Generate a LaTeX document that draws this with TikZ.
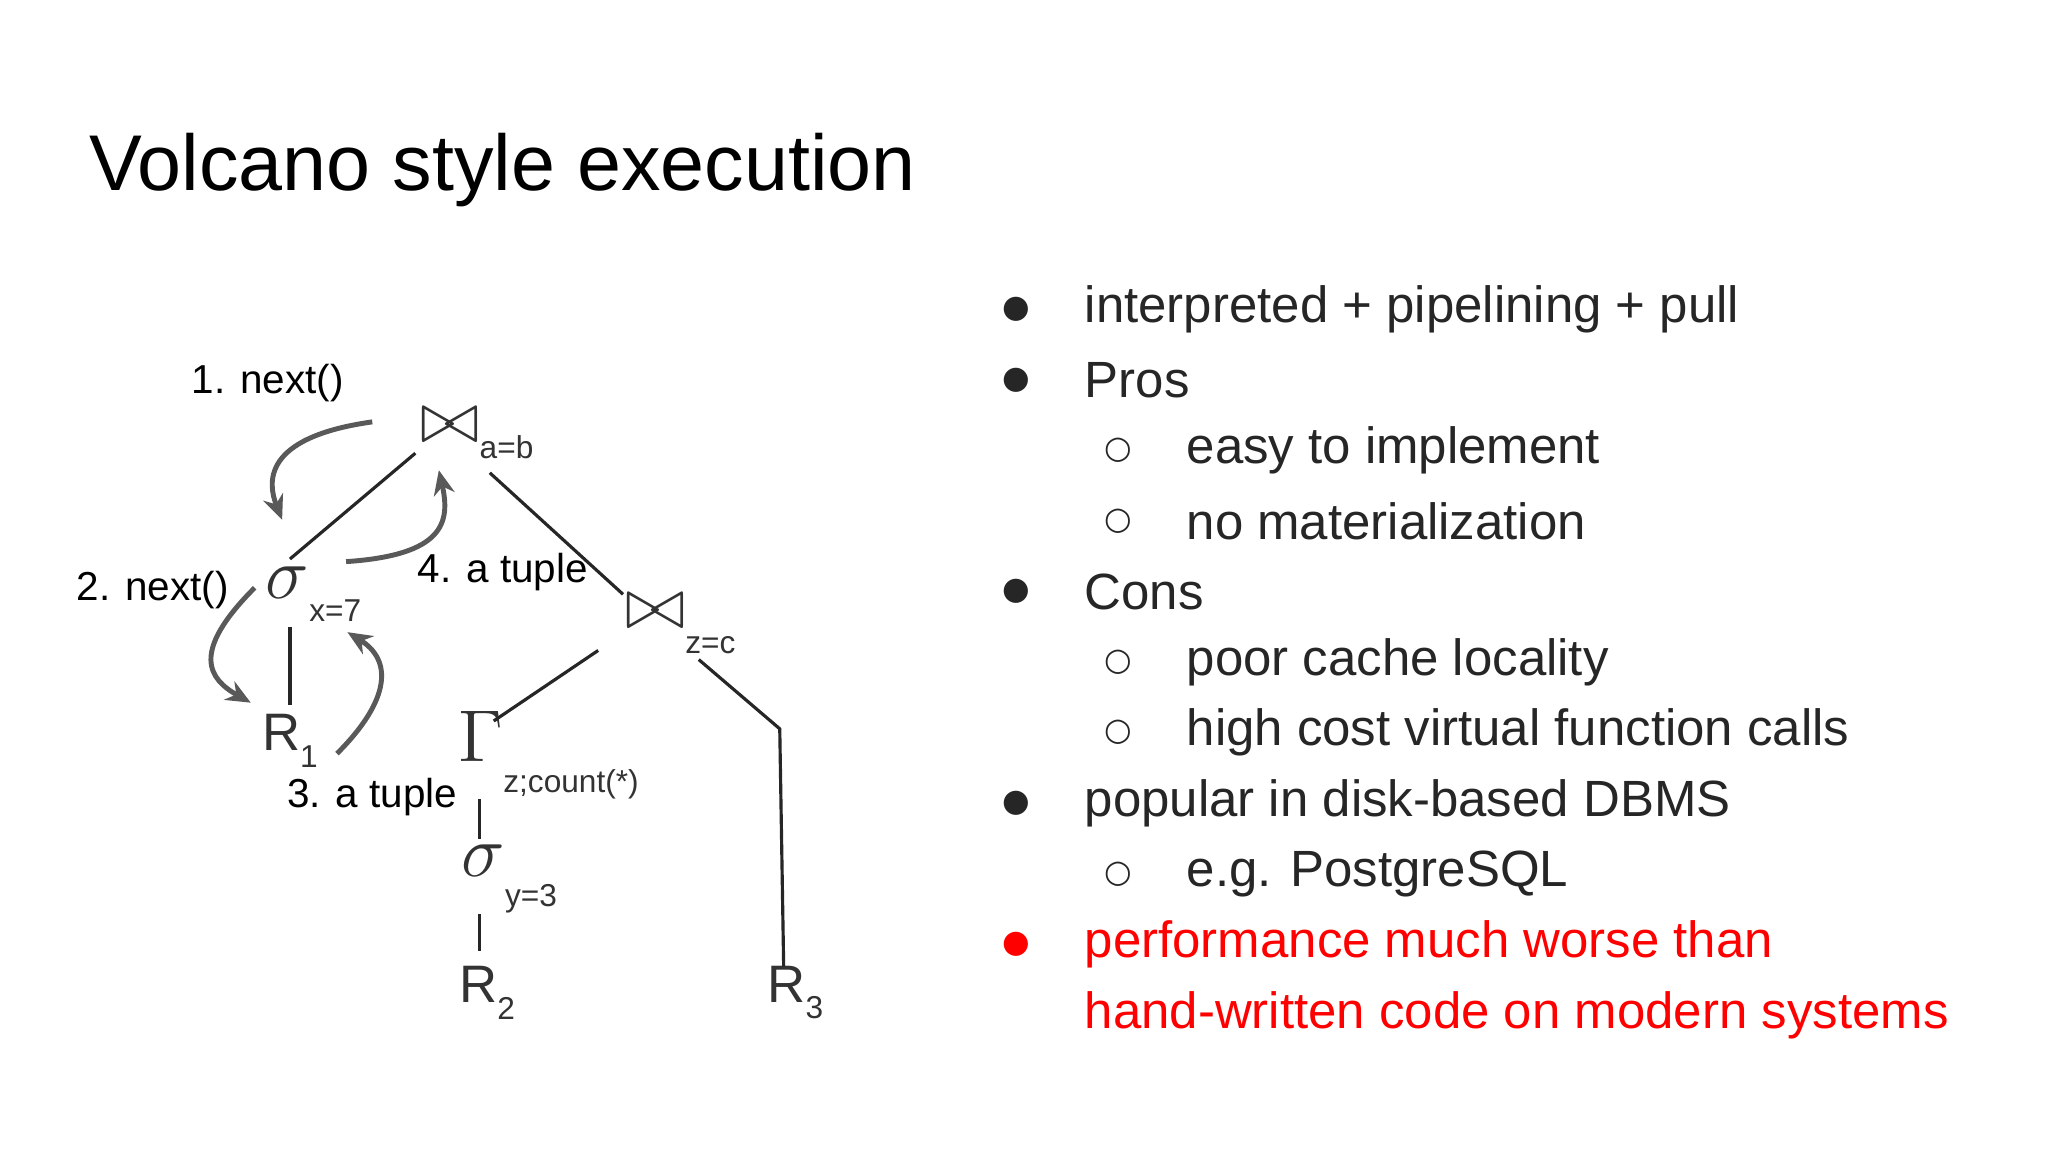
\documentclass[tikz,border=0pt]{standalone}
\usepackage{fontspec}
\setmainfont{Liberation Sans}
\newfontfamily\dejavu{DejaVu Sans}
\usetikzlibrary{arrows.meta}
\begin{document}
\begin{tikzpicture}[x=0.01306cm,y=-0.01306cm,
  edge/.style={line width=0.9pt,black!85},
  flow/.style={line width=1.4pt,draw=black!65,-{Stealth[length=7pt,width=6pt]}},
  lbl/.style={font=\fontsize{11.5}{13}\selectfont,anchor=center},
  op/.style={font=\fontsize{15}{17}\selectfont,text=black!80,inner sep=0pt},
  bt/.style={anchor=west,font=\fontsize{14.5}{17}\selectfont,inner sep=0pt},
  bul/.style={font=\dejavu\fontsize{9}{10}\selectfont,inner sep=0pt}]
\newcommand{\bigsym}[1]{\scalebox{1.45}{$#1$}}
\useasboundingbox[fill=white] (0,0) rectangle (1568,882);
\node[anchor=west,font=\fontsize{22.5}{26}\selectfont,inner sep=0pt] (title) at (68,130) {Volcano style execution};
% tree nodes
\node[op] (j1) at (365,332) {\bigsym{\bowtie}\raisebox{-0.6ex}{\small a=b}};
\node[op] (s1) at (240,455) {\bigsym{\sigma}\raisebox{-0.8ex}{\small x=7}};
\node[op] (j2) at (521,478) {\bigsym{\bowtie}\raisebox{-0.9ex}{\small z=c}};
\node[op] (g) at (420,578) {\bigsym{\Gamma}\raisebox{-1.1ex}{\small z;count(*)}};
\node[op] (s2) at (390,673) {\bigsym{\sigma}\raisebox{-1.1ex}{\small y=3}};
\node[op] (r1) at (222,567) {R\raisebox{-0.6ex}{\small 1}};
\node[op] (r2) at (373,760) {R\raisebox{-0.6ex}{\small 2}};
\node[op] (r3) at (609,760) {R\raisebox{-0.6ex}{\small 3}};
% edges
\coordinate (a1) at (318,347); \coordinate (a2) at (222,428);
\coordinate (b1) at (375,362); \coordinate (b2) at (477,455);
\coordinate (c1) at (222,480); \coordinate (c2) at (222,540);
\coordinate (d1) at (458,498); \coordinate (d2) at (378,552);
\coordinate (e1) at (535,505); \coordinate (e2) at (597,558); \coordinate (e3) at (600,740);
\coordinate (f1) at (367,612); \coordinate (f2) at (367,642);
\coordinate (h1) at (367,700); \coordinate (h2) at (367,728);
\draw[edge] (a1)--(a2); \draw[edge] (b1)--(b2); \draw[edge] (c1)--(c2);
\draw[edge] (d1)--(d2); \draw[edge] (e1)--(e2)--(e3); \draw[edge] (f1)--(f2);
\draw[edge] (h1)--(h2);
% flow arrows
\coordinate (p1) at (285,323); \coordinate (q1) at (216,398);
\coordinate (p4) at (265,430); \coordinate (q4) at (336,360);
\coordinate (p2) at (195,450); \coordinate (q2) at (192,538);
\coordinate (p3) at (258,577); \coordinate (q3) at (266,484);
\draw[flow] (p1) .. controls (200,335) and (205,370) .. (q1);
\draw[flow] (p4) .. controls (340,425) and (345,400) .. (q4);
\draw[flow] (p2) .. controls (145,500) and (160,520) .. (q2);
\draw[flow] (p3) .. controls (300,535) and (300,505) .. (q3);
\node[lbl] (l1) at (205,293) {1. next()};
\node[lbl] (l2) at (117,452) {2. next()};
\node[lbl] (l4) at (385,438) {4. a tuple};
\node[lbl] (l3) at (285,610) {3. a tuple};
% bullets
\foreach \y/\t/\lev [count=\i] in {237/interpreted + pipelining + pull/0, 291/Pros/0, 345/easy to implement/1, 399/no materialization/1, 453/Cons/0, 507/poor cache locality/1, 561/high cost virtual function calls/1, 615/popular in disk-based DBMS/0, 669/e.g. PostgreSQL/1}{
  \ifnum\lev=0
    \node[bul,text=black!85] (m\i) at (778,\y) {●};
    \node[bt,text=black!85] (t\i) at (830,\y) {\t};
  \else
    \node[bul,text=black!85] (m\i) at (856,\y) {○};
    \node[bt,text=black!85] (t\i) at (908,\y) {\t};
  \fi}
\node[bul,text=red] (m10) at (778,723) {●};
\node[bt,text=red] (t10) at (830,723) {performance much worse than};
\node[bt,text=red] (t11) at (830,777) {hand-written code on modern systems};
\end{tikzpicture}
\end{document}
